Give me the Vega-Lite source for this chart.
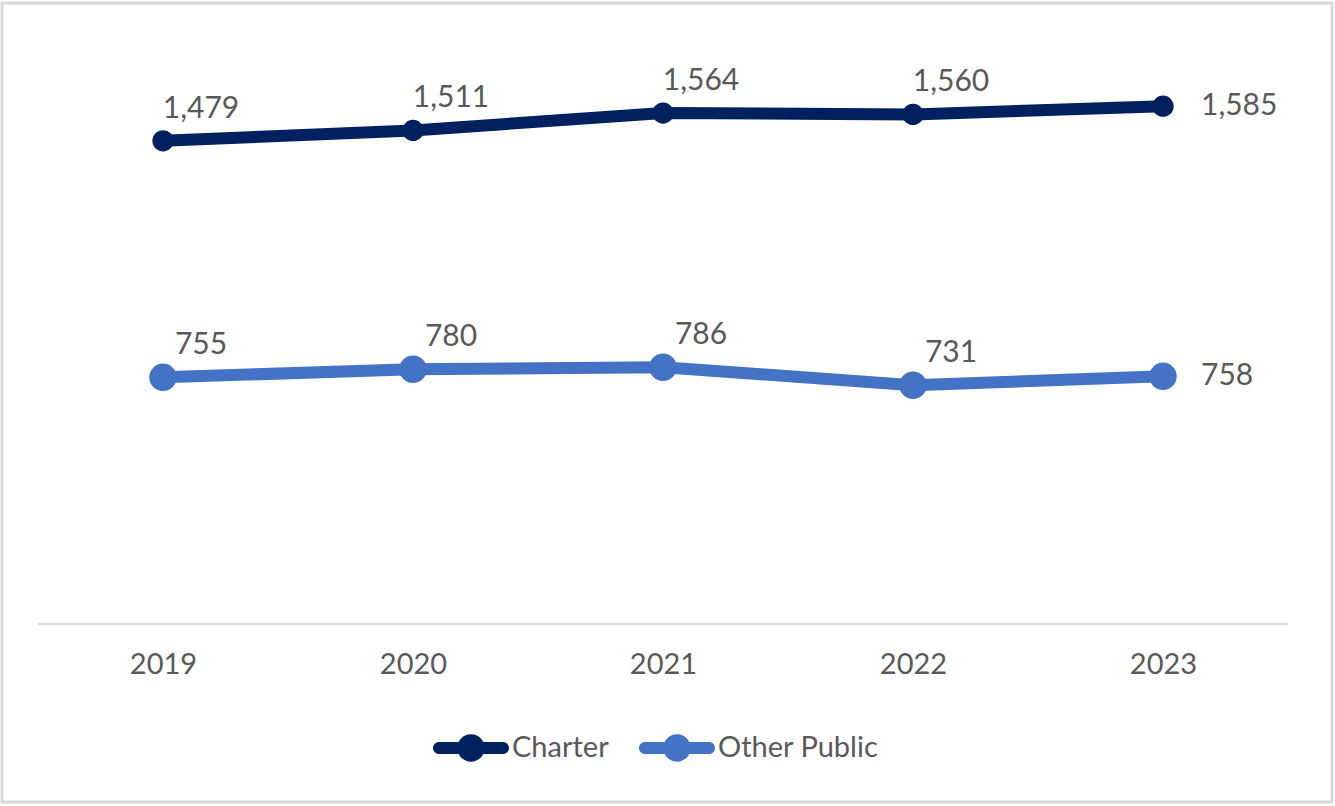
{
  "$schema": "https://vega.github.io/schema/vega-lite/v6.json",
  "autosize": "none",
  "width": 1330,
  "height": 799,
  "padding": {"left": 2, "top": 3, "right": 3, "bottom": 4},
  "background": "#ffffff",
  "config": {
    "view": {"stroke": "#d9d9d9", "strokeWidth": 3},
    "font": "Lato",
    "text": {"font": "Lato", "fontSize": 30, "fill": "#595959"}
  },
  "data": {
    "values": [
      {"year": 2019, "series": "Charter", "value": 1479},
      {"year": 2020, "series": "Charter", "value": 1511},
      {"year": 2021, "series": "Charter", "value": 1564},
      {"year": 2022, "series": "Charter", "value": 1560},
      {"year": 2023, "series": "Charter", "value": 1585},
      {"year": 2019, "series": "Other Public", "value": 755},
      {"year": 2020, "series": "Other Public", "value": 780},
      {"year": 2021, "series": "Other Public", "value": 786},
      {"year": 2022, "series": "Other Public", "value": 731},
      {"year": 2023, "series": "Other Public", "value": 758}
    ]
  },
  "layer": [
    {
      "data": {"values": [{"a": 2018.5, "b": 2023.5, "v": 0}]},
      "mark": {"type": "rule", "color": "#d9d9d9", "strokeWidth": 2},
      "encoding": {
        "x": {
          "field": "a",
          "type": "quantitative",
          "scale": {"domain": [2018.356, 2023.676], "nice": false, "zero": false},
          "axis": {
            "values": [2019, 2020, 2021, 2022, 2023],
            "format": "d",
            "title": null,
            "grid": false,
            "domain": false,
            "ticks": false,
            "tickSize": 0,
            "offset": -178,
            "labelPadding": 26,
            "labelFont": "Lato",
            "labelFontSize": 29,
            "labelColor": "#595959"
          }
        },
        "x2": {"field": "b"},
        "y": {
          "field": "v",
          "type": "quantitative",
          "scale": {"domain": [-545, 1901], "nice": false, "zero": false},
          "axis": null
        }
      }
    },
    {
      "mark": {"type": "line", "strokeCap": "round", "strokeJoin": "round", "strokeWidth": 12},
      "encoding": {
        "x": {"field": "year", "type": "quantitative"},
        "y": {"field": "value", "type": "quantitative"},
        "color": {
          "field": "series",
          "type": "nominal",
          "scale": {"domain": ["Charter", "Other Public"], "range": ["#002060", "#4472C4"]}
        }
      }
    },
    {
      "transform": [{"filter": "datum.series == 'Charter'"}],
      "mark": {"type": "point", "filled": true, "opacity": 1, "shape": "circle", "size": 452},
      "encoding": {
        "x": {"field": "year", "type": "quantitative"},
        "y": {"field": "value", "type": "quantitative"},
        "color": {"field": "series", "type": "nominal"}
      }
    },
    {
      "transform": [{"filter": "datum.series == 'Other Public'"}],
      "mark": {"type": "point", "filled": true, "opacity": 1, "shape": "circle", "size": 755},
      "encoding": {
        "x": {"field": "year", "type": "quantitative"},
        "y": {"field": "value", "type": "quantitative"},
        "color": {
          "field": "series",
          "type": "nominal",
          "legend": {
            "title": null,
            "orient": "none",
            "direction": "horizontal",
            "legendX": 431,
            "legendY": 707,
            "padding": 0,
            "symbolType": "M-0.84,-0.16 L0.84,-0.16 A0.16,0.16 0 0 1 0.84,0.16 L-0.84,0.16 A0.16,0.16 0 0 1 -0.84,-0.16 Z M0.36,0 A0.36,0.36 0 1 1 -0.36,0 A0.36,0.36 0 1 1 0.36,0 Z",
            "symbolSize": 5776,
            "symbolStrokeWidth": 0,
            "symbolOpacity": 1,
            "labelFont": "Lato",
            "labelFontSize": 29,
            "labelColor": "#595959",
            "labelOffset": 3,
            "labelLimit": 400,
            "columnPadding": 30
          }
        }
      }
    },
    {
      "transform": [{"filter": "datum.year < 2023"}],
      "mark": {"type": "text", "align": "center", "baseline": "middle", "dx": 38, "dy": -32},
      "encoding": {
        "x": {"field": "year", "type": "quantitative"},
        "y": {"field": "value", "type": "quantitative"},
        "text": {"field": "value", "type": "quantitative", "format": ",d"}
      }
    },
    {
      "transform": [{"filter": "datum.year == 2023"}],
      "mark": {"type": "text", "align": "left", "baseline": "middle", "dx": 38, "dy": 0},
      "encoding": {
        "x": {"field": "year", "type": "quantitative"},
        "y": {"field": "value", "type": "quantitative"},
        "text": {"field": "value", "type": "quantitative", "format": ",d"}
      }
    }
  ]
}
